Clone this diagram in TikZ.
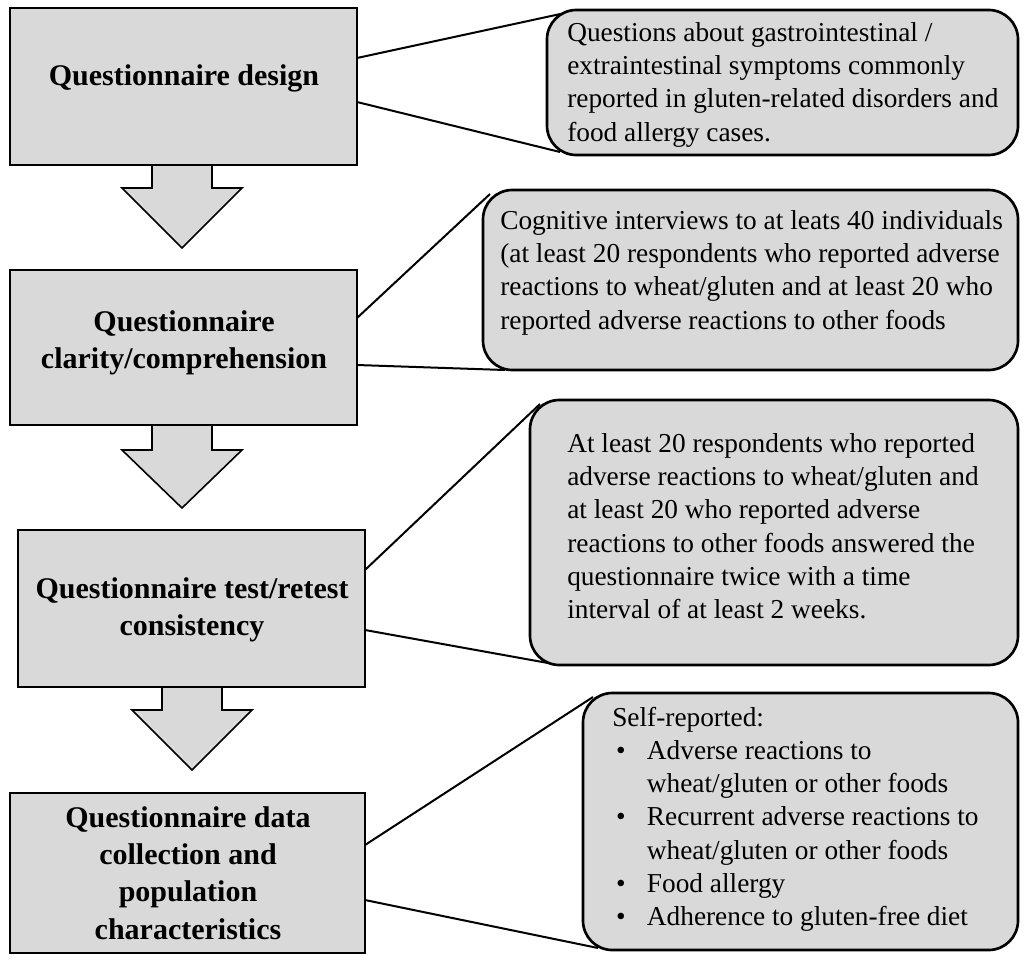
\documentclass[tikz,border=0pt]{standalone}
\usepackage{fontspec}
\setmainfont{Liberation Serif}
\begin{document}
\begin{tikzpicture}[x=0.75pt,y=-0.75pt,
 box/.style={draw=black,line width=1.5pt,fill=boxgray},
 lt/.style={font=\fontsize{22.5}{28}\selectfont\bfseries,align=center},
 rt/.style={font=\fontsize{20.5}{25}\selectfont,align=left,anchor=north west,inner sep=0pt},
 call/.style={draw=black,line width=2pt,fill=boxgray,rounded corners=22pt},
 ln/.style={line width=1.5pt},
 arr/.style={draw=black,line width=1.2pt,fill=boxgray}]
\definecolor{boxgray}{HTML}{D9D9D9}
\useasboundingbox (0,0) rectangle (1024,961);
% arrows
\draw[arr] (152,165)--(212,165)--(212,188)--(242,188)--(182,248)--(122,188)--(152,188)--cycle;
\draw[arr] (152,425)--(212,425)--(212,450)--(242,450)--(182,508)--(122,450)--(152,450)--cycle;
\draw[arr] (162,687)--(222,687)--(222,710)--(252,710)--(192,770)--(132,710)--(162,710)--cycle;
% left boxes
\draw[box] (10,8) rectangle (357,165); \node[lt] (b1) at (184,78) {Questionnaire design};
\draw[box] (10,270) rectangle (357,425); \node[lt] (b2) at (184,343) {Questionnaire\\clarity/comprehension};
\draw[box] (18,530) rectangle (365,687); \node[lt] (b3) at (192,610) {Questionnaire test/retest\\consistency};
\draw[box] (10,793) rectangle (365,953); \node[lt] (b4) at (188,873) {Questionnaire data\\collection and\\population\\characteristics};
% connector lines
\coordinate (a1) at (357,58); \coordinate (a2) at (357,102);
\coordinate (c1) at (565,13); \coordinate (c2) at (560,152);
\draw[ln] (a1)--(c1); \draw[ln] (a2)--(c2);
\coordinate (a3) at (357,318); \coordinate (a4) at (357,365);
\coordinate (c3) at (490,194); \coordinate (c4) at (505,370);
\draw[ln] (a3)--(c3); \draw[ln] (a4)--(c4);
\coordinate (a5) at (365,570); \coordinate (a6) at (365,630);
\coordinate (c5) at (540,404); \coordinate (c6) at (548,663);
\draw[ln] (a5)--(c5); \draw[ln] (a6)--(c6);
\coordinate (a7) at (365,845); \coordinate (a8) at (365,900);
\coordinate (c7) at (593,697); \coordinate (c8) at (598,948);
\draw[ln] (a7)--(c7); \draw[ln] (a8)--(c8);
% callouts
\draw[call] (547,10) rectangle (1018,155);
\node[rt] (r1) at (567,22) {Questions about gastrointestinal /\\extraintestinal symptoms commonly\\reported in gluten-related disorders and\\food allergy cases.};
\draw[call] (483,190) rectangle (1018,370);
\node[rt] (r2) at (500,210) {Cognitive interviews to at leats 40 individuals\\(at least 20 respondents who reported adverse\\reactions to wheat/gluten and at least 20 who\\reported adverse reactions to other foods};
\draw[call] (530,400) rectangle (1018,665);
\node[rt] (r3) at (567,433) {At least 20 respondents who reported\\adverse reactions to wheat/gluten and\\at least 20 who reported adverse\\reactions to other foods answered the\\questionnaire twice with a time\\interval of at least 2 weeks.};
\draw[call] (583,693) rectangle (1018,950);
\node[rt] (r4) at (612,707) {Self-reported:};
\node[rt] (r5) at (612,740) {%
\begin{minipage}{320pt}\raggedright
\begin{list}{\textbullet}{\leftmargin=26pt\labelwidth=10pt\labelsep=16pt\itemsep=0pt\parsep=0pt\topsep=0pt\partopsep=0pt}
\item Adverse reactions to\\wheat/gluten or other foods
\item Recurrent adverse reactions to\\wheat/gluten or other foods
\item Food allergy
\item Adherence to gluten-free diet
\end{list}\end{minipage}};
\end{tikzpicture}
\end{document}
